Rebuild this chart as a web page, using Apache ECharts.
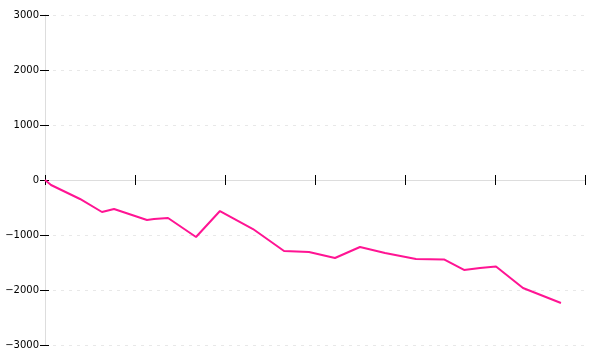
<!DOCTYPE html>
<html>
<head>
<meta charset="utf-8">
<script src="https://cdn.jsdelivr.net/npm/echarts@6/dist/echarts.min.js"></script>
<style>html,body{margin:0;padding:0;background:#fff}#c{width:600px;height:360px}</style>
</head>
<body>
<div id="c"></div>
<script>
// x positions (axis units 0..6) and y values of the line's vertices
const xValues = [0, 0.067, 0.389, 0.633, 0.767, 1.133, 1.211, 1.367, 1.678, 1.944, 2.311, 2.656, 2.933, 3.222, 3.5, 3.778, 4.122, 4.433, 4.656, 4.833, 5.011, 5.311, 5.733];
const yValues = [0, -91, -345, -582, -527, -727, -709, -691, -1036, -564, -891, -1291, -1309, -1418, -1218, -1327, -1436, -1445, -1636, -1600, -1573, -1964, -2236];
const yTicks = [-3000, -2000, -1000, 0, 1000, 2000, 3000];

const chart = echarts.init(document.getElementById('c'), null, {renderer: 'canvas'});
const data = xValues.map((x, i) => [x, yValues[i]]);
const fmt = v => (v < 0 ? '\u2212' + Math.abs(v) : String(v));
const grid = {left: 45, right: 15, top: 15, bottom: 15, containLabel: false, outerBoundsMode: 'none'};
chart.setOption({
  animation: false,
  grid: grid,
  xAxis: [
    {type: 'value', min: 0, max: 6, interval: 1,
     axisLine: {onZero: true, lineStyle: {color: '#dddddd', width: 1}},
     axisTick: {show: true, inside: false, length: 5, lineStyle: {color: '#000'}},
     axisLabel: {show: false}, splitLine: {show: false}},
    {type: 'value', min: 0, max: 6, interval: 1, position: 'bottom',
     axisLine: {onZero: true, onZeroAxisIndex: 0, lineStyle: {color: '#dddddd', width: 1}},
     axisTick: {show: true, inside: true, length: 5, lineStyle: {color: '#000'}},
     axisLabel: {show: false}, splitLine: {show: false}}
  ],
  yAxis: [
    {type: 'value', min: -3000, max: 3000, interval: 1000,
     axisLine: {show: true, onZero: false, lineStyle: {color: '#dddddd'}},
     axisTick: {show: true, inside: false, length: 5, lineStyle: {color: '#000'}},
     axisLabel: {show: true, formatter: fmt, color: '#000', fontFamily: 'DejaVu Sans', fontSize: 10, margin: 6},
     splitLine: {show: true, lineStyle: {color: '#e8e8e8', type: [3, 5]}}},
    {type: 'value', min: -3000, max: 3000, interval: 1000, position: 'left', offset: 0,
     axisLine: {show: false, onZero: false},
     axisTick: {show: true, inside: true, length: 4, lineStyle: {color: '#000'}},
     axisLabel: {show: false}, splitLine: {show: false}}
  ],
  series: [{
    type: 'line', data: data, showSymbol: false, symbol: 'none',
    lineStyle: {color: '#ff1493', width: 2}, itemStyle: {color: '#ff1493'}
  }]
});
</script>
</body>
</html>
